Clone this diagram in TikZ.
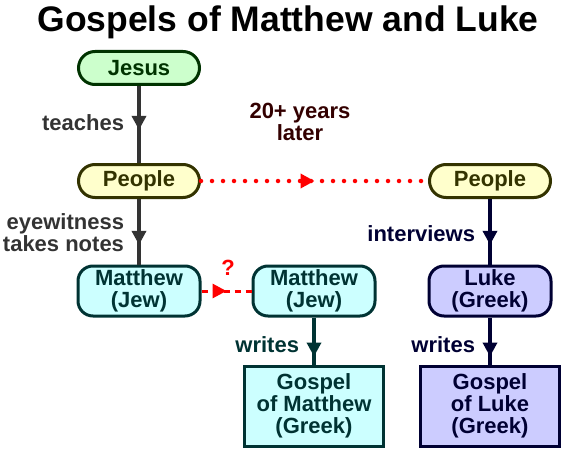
\documentclass[tikz,border=0pt]{standalone}
\usepackage{fontspec}
\setmainfont{Liberation Sans}
\usetikzlibrary{arrows.meta,decorations.markings}

\definecolor{jesusfill}{HTML}{CCFFCC}
\definecolor{jesusline}{HTML}{003300}
\definecolor{peoplefill}{HTML}{FFFFCC}
\definecolor{peopleline}{HTML}{333300}
\definecolor{mattfill}{HTML}{CCFFFF}
\definecolor{mattline}{HTML}{003333}
\definecolor{lukefill}{HTML}{CCCCFF}
\definecolor{lukeline}{HTML}{000033}
\definecolor{linegray}{HTML}{333333}
\definecolor{latercol}{HTML}{330000}

\tikzset{
  midarrow/.style={postaction={decorate},
    decoration={markings,mark=at position #1 with {\arrow{Triangle[width=14pt,length=14pt]}}}},
}

\begin{document}
\begin{tikzpicture}[x=1pt,y=-1pt,
    every node/.style={font=\fontsize{22}{22}\selectfont\bfseries,align=center},
    pill/.style={draw,line width=3pt,rounded corners=16.5pt,minimum width=121pt,minimum height=33pt,inner sep=0pt},
    rbox/.style={draw,line width=3pt,rounded corners=15pt,minimum width=122pt,minimum height=50pt,inner sep=0pt},
    gbox/.style={draw,line width=3pt,minimum width=139pt,minimum height=80pt,inner sep=0pt},
    link/.style={line width=4pt},
    elabel/.style={left=13pt,inner sep=0pt}]
    \useasboundingbox (0,0) rectangle (576,460);
    %% title
    \node[anchor=base,font=\fontsize{35.5}{36}\selectfont\bfseries] (title) at (288,32) {Gospels of Matthew and Luke};
    %% boxes
    \node[pill,fill=jesusfill,draw=jesusline,text=jesusline] (jesus) at (139,68) {Jesus};
    \node[pill,fill=peoplefill,draw=peopleline,text=peopleline] (peopleL) at (139,181) {People};
    \node[pill,fill=peoplefill,draw=peopleline,text=peopleline] (peopleR) at (490,181) {People};
    \node[rbox,fill=mattfill,draw=mattline,text=mattline] (matthewL) at (139,291) {Matthew\\(Jew)};
    \node[rbox,fill=mattfill,draw=mattline,text=mattline] (matthewR) at (314,291) {Matthew\\(Jew)};
    \node[rbox,fill=lukefill,draw=lukeline,text=lukeline] (luke) at (490,291) {Luke\\(Greek)};
    \node[gbox,fill=mattfill,draw=mattline,text=mattline] (gospelM) at (314,406) {Gospel\\of Matthew\\(Greek)};
    \node[gbox,fill=lukefill,draw=lukeline,text=lukeline] (gospelL) at (490,406) {Gospel\\of Luke\\(Greek)};
    %% labels
    \node[text=latercol] (later) at (300,122) {20+ years\\later};
    \node[text=red] (query) at (228,268) {?};
    %% left column
    \draw[link,linegray,midarrow=0.57] (jesus) -- node[pos=0.48,elabel,text=linegray] {teaches} (peopleL);
    \draw[link,linegray,midarrow=0.7] (peopleL) -- node[pos=0.52,elabel,text=linegray,align=right] {eyewitness\\takes notes} (matthewL);
    %% red links
    \draw[red,line width=4.5pt,line cap=round,dash pattern=on 0pt off 11pt,midarrow=0.5] (peopleL) -- (peopleR);
    \draw[red,line width=3pt,dash pattern=on 6pt off 5pt,midarrow=0.5] (matthewL) -- (matthewR);
    %% writing
    \draw[link,mattline,midarrow=0.83] (matthewR) -- node[pos=0.57,elabel,text=mattline] {writes} (gospelM);
    \draw[link,lukeline,midarrow=0.7] (peopleR) -- node[pos=0.53,elabel,text=lukeline] {interviews} (luke);
    \draw[link,lukeline,midarrow=0.83] (luke) -- node[pos=0.57,elabel,text=lukeline] {writes} (gospelL);
\end{tikzpicture}
\end{document}
